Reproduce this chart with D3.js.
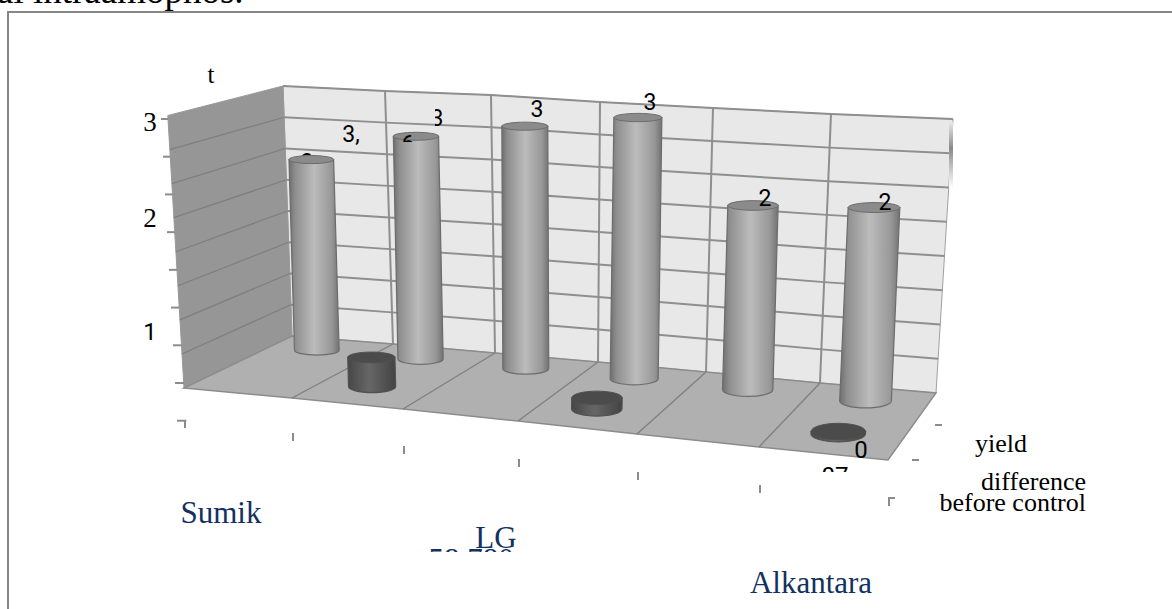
<!DOCTYPE html>
<html>
<head>
<meta charset="utf-8">
<script src="https://cdn.jsdelivr.net/npm/d3@7"></script>
<style>
html, body { margin: 0; padding: 0; background: #fff; overflow: hidden; }
text { fill: #000; }
</style>
</head>
<body>
<div id="chart"></div>
<script>
// values
var categories = ["Sumik", "cat2", "cat3", "LG", "cat5", "Alkantara"];
var seriesNames = ["yield", "difference"];
var legendNames = ["yield", "difference", "before control"];
var yieldValues = [2.98, 3.43, 3.68, 3.92, 2.72, 2.80];
var differenceValues = [0, 0.43, 0, 0.16, 0, 0.03];
var gridValues = [0.5, 1, 1.5, 2, 2.5, 3, 3.5];
var tickValues = [-0.5, 0, 0.5, 1, 1.5, 2, 2.5, 3, 3.5];
var tickLabels = ["3", "2", "1"];

var width = 1172, height = 609;
var edges = d3.range(7);

// the box corners per category edge: back wall top, back wall bottom, front of floor
var xBackTop = d3.scaleLinear().domain(edges).range([283, 385, 491, 600, 713, 831, 953]);
var yBackTop = d3.scaleLinear().domain(edges).range([86, 91, 95, 102, 108, 114, 119]);
var xBackBot = d3.scaleLinear().domain(edges).range([292, 393, 495, 598, 706, 820, 936]);
var yBackBot = d3.scaleLinear().domain(edges).range([336, 344, 353, 362, 372, 383, 393]);
var xFront = d3.scaleLinear().domain(edges).range([184, 292, 403, 518, 637, 759, 888]);
var yFront = d3.scaleLinear().domain(edges).range([388, 398, 409, 421, 434, 447, 460]);

var frac = d3.scaleLinear().domain([0, 4]).range([0, 1]);
var catBand = d3.scaleBand().domain(categories).range([-0.05, 5.99]);
var depth = d3.scalePoint().domain(seriesNames).range([-0.05, 0.95]).padding(0.5);

// c = position along categories, v = value, t = 0 at back wall, 1 at front edge
function project(c, v, t) {
    var bx = xBackBot(c) + (xFront(c) - xBackBot(c)) * t;
    var by = yBackBot(c) + (yFront(c) - yBackBot(c)) * t;
    var f = frac(v);
    return [
        bx + (xBackTop(c) - xBackBot(c)) * f * (1 + 0.8 * t),
        by + (yBackTop(c) - yBackBot(c)) * f * (1 + 0.09 * t)
    ];
}

var line = d3.line();

var svg = d3.select("#chart").append("svg")
    .attr("width", width)
    .attr("height", height);

var defs = svg.append("defs");

function addGradient(id, stops) {
    var g = defs.append("linearGradient").attr("id", id).attr("x1", 0).attr("x2", 1).attr("y1", 0).attr("y2", 0);
    stops.forEach(function (s) {
        g.append("stop").attr("offset", s[0]).attr("stop-color", s[1]);
    });
}
addGradient("tall", [[0, "#6e6e6e"], [0.12, "#8e8e8e"], [0.5, "#bcbcbc"], [0.85, "#989898"], [1, "#727272"]]);
addGradient("dark", [[0, "#474747"], [0.45, "#666666"], [1, "#434343"]]);

var smear = defs.append("linearGradient").attr("id", "smear").attr("x1", 0).attr("x2", 0).attr("y1", 0).attr("y2", 1);
smear.append("stop").attr("offset", 0).attr("stop-color", "#e8e8e8");
smear.append("stop").attr("offset", 0.4).attr("stop-color", "#8a8a8a");
smear.append("stop").attr("offset", 1).attr("stop-color", "#ffffff");

function clipRect(id, x, y, w, h) {
    defs.append("clipPath").attr("id", id).append("rect")
        .attr("x", x).attr("y", y).attr("width", w).attr("height", h);
}
clipRect("clipThree", 435, 108, 8, 20);
clipRect("clipSix", 400, 134, 16, 8);
clipRect("clipSeven", 815, 460, 40, 12);
clipRect("clipLG", 465, 510, 60, 39);
clipRect("clipNum", 420, 549, 100, 3);

// text that runs off the top of the picture, from the page above the chart
svg.append("text")
    .attr("x", -3).attr("y", 3)
    .style("font-family", "Liberation Serif")
    .style("font-size", "37px")
    .text("al intraamophos.");

// frame, no right or bottom side in view
svg.append("path")
    .attr("d", line([[8, height], [8, 12], [width, 12]]))
    .attr("fill", "none")
    .attr("stroke", "#868686")
    .attr("stroke-width", 2);

// walls and floor
svg.append("path")
    .attr("d", line(edges.map(function (c) { return project(c, 4, 0); })
        .concat(edges.slice().reverse().map(function (c) { return project(c, 0, 0); }))) + "Z")
    .attr("fill", "#e8e8e8")
    .attr("stroke", "#a0a0a0");

svg.append("path")
    .attr("d", line([project(0, 4, 1), project(0, 4, 0), project(0, 0, 0), project(0, 0, 1)]) + "Z")
    .attr("fill", "#969696")
    .attr("stroke", "#999999");

svg.append("path")
    .attr("d", line(edges.map(function (c) { return project(c, 0, 0); })
        .concat(edges.slice().reverse().map(function (c) { return project(c, 0, 1); }))) + "Z")
    .attr("fill", "#b0b0b0")
    .attr("stroke", "#8c8c8c")
    .attr("stroke-width", 1.5);

// grid
gridValues.concat([4]).forEach(function (v) {
    svg.append("path")
        .attr("d", line(edges.map(function (c) { return project(c, v, 0); })))
        .attr("fill", "none").attr("stroke", "#8f8f8f").attr("stroke-width", 2);
});
gridValues.forEach(function (v) {
    svg.append("path")
        .attr("d", line([project(0, v, 1), project(0, v, 0)]))
        .attr("fill", "none").attr("stroke", "#7e7e7e").attr("stroke-width", 1.2);
});
edges.slice(1, 6).forEach(function (c) {
    svg.append("path")
        .attr("d", line([project(c, 4, 0), project(c, 0, 0)]))
        .attr("fill", "none").attr("stroke", "#8f8f8f").attr("stroke-width", 2);
    svg.append("path")
        .attr("d", line([project(c, 0, 0), project(c, 0, 1)]))
        .attr("fill", "none").attr("stroke", "#808080").attr("stroke-width", 1.4);
});

svg.append("rect")
    .attr("x", 949).attr("y", 122).attr("width", 4).attr("height", 66)
    .attr("fill", "url(#smear)");

// axis tick marks sit away from the box, as in the picture
var tickY = d3.scaleLinear().domain([0, 3.5]).range([383, 119]);
var tickLeft = d3.scaleLinear().domain([0, 3.5]).range([175, 161]);
var tickRight = d3.scaleLinear().domain([0, 3.5]).range([184, 168]);
tickValues.forEach(function (v) {
    svg.append("line")
        .attr("x1", tickLeft(v)).attr("x2", tickRight(v))
        .attr("y1", tickY(v)).attr("y2", tickY(v))
        .attr("stroke", "#8c8c8c").attr("stroke-width", 2);
});

var catTickY = d3.scaleLinear().domain([0, 6]).range([420, 498]);
edges.forEach(function (c) {
    svg.append("line")
        .attr("x1", xFront(c) + 1).attr("x2", xFront(c) + 1)
        .attr("y1", catTickY(c)).attr("y2", catTickY(c) + 8)
        .attr("stroke", "#8c8c8c").attr("stroke-width", 2);
});

var depthTickX = d3.scaleLinear().domain([0, 1, 2]).range([935, 912, 888]);
var depthTickY = d3.scaleLinear().domain([0, 1, 2]).range([425, 460, 498]);
legendNames.forEach(function (d, i) {
    svg.append("line")
        .attr("x1", depthTickX(i)).attr("x2", depthTickX(i) + 7)
        .attr("y1", depthTickY(i)).attr("y2", depthTickY(i))
        .attr("stroke", "#8c8c8c").attr("stroke-width", 2);
});

// value tick labels, only their first characters survive
var serif = "Liberation Serif", sans = "Roboto";
function label(x, y, txt, family, size, anchor, clip) {
    var t = svg.append("text")
        .attr("x", x).attr("y", y)
        .attr("text-anchor", anchor || "middle")
        .style("font-family", family)
        .style("font-size", size + "px")
        .text(txt);
    if (clip) t.attr("clip-path", "url(#" + clip + ")");
    return t;
}
label(150, 131, tickLabels[0], serif, 27);
label(150, 227, tickLabels[1], serif, 27);
label(150, 340, tickLabels[2], sans, 24);
label(211, 83, "t", serif, 25);

// labels the bars cover
label(307, 170, "3", sans, 23);
label(351, 142, "3,", sans, 23);
label(437, 126, "3", sans, 23, "middle", "clipThree");

var tiltScale = d3.scaleLinear().domain([100, 350, 450]).range([0.17, 0.22, 0.32]);

function drawCylinder(i, value, name, grad, topFill, edge) {
    var c = catBand(categories[i]) + catBand.bandwidth() / 2;
    var t = depth(name);
    var base = project(c, 0, t);
    var top = project(c, value, t);
    // bars lean a little less than the wall lines do
    top[0] = base[0] + (top[0] - base[0]) * 0.75;
    var rx = 0.218 * (project(c + 0.5, 0, t)[0] - project(c - 0.5, 0, t)[0]);
    var ryBase = rx * tiltScale(base[1]);
    var ryTop = rx * tiltScale(top[1]);

    svg.append("path")
        .attr("d", "M" + (top[0] - rx) + "," + top[1] +
            "L" + (base[0] - rx) + "," + base[1] +
            "A" + rx + "," + ryBase + " 0 0 0 " + (base[0] + rx) + "," + base[1] +
            "L" + (top[0] + rx) + "," + top[1] + "Z")
        .attr("fill", "url(#" + grad + ")")
        .attr("stroke", edge).attr("stroke-width", 1.2);
    svg.append("ellipse")
        .attr("cx", top[0]).attr("cy", top[1])
        .attr("rx", rx).attr("ry", ryTop)
        .attr("fill", topFill)
        .attr("stroke", edge).attr("stroke-width", 1);
}

yieldValues.forEach(function (d, i) {
    drawCylinder(i, d, "yield", "tall", "#8b8b8b", "#6c6c6c");
});
differenceValues.forEach(function (d, i) {
    if (d > 0) drawCylinder(i, d, "difference", "dark", "#4b4b4b", "#505050");
});

// labels on top of the bars
label(408, 152, "6", sans, 23, "middle", "clipSix");
label(537, 117, "3", sans, 23);
label(650, 110, "3", sans, 23);
label(765, 206, "2", sans, 23);
label(885, 210, "2", sans, 23);
label(861, 458, "0", sans, 24);
label(835, 484, "07", sans, 24, "middle", "clipSeven");

// depth legend
label(975, 452, legendNames[0], serif, 26, "start");
label(1086, 490, legendNames[1], serif, 26, "end");
label(1086, 511, legendNames[2], serif, 26, "end");

// category names, staggered as in the picture
label(221, 523, categories[0], serif, 31).style("fill", "#12315f");
label(496, 548, categories[3], serif, 31, "middle", "clipLG").style("fill", "#12315f");
label(471, 570, "58 780", serif, 31, "middle", "clipNum").style("fill", "#12315f");
label(811, 593, categories[5], serif, 31).style("fill", "#12315f");
</script>
</body>
</html>
